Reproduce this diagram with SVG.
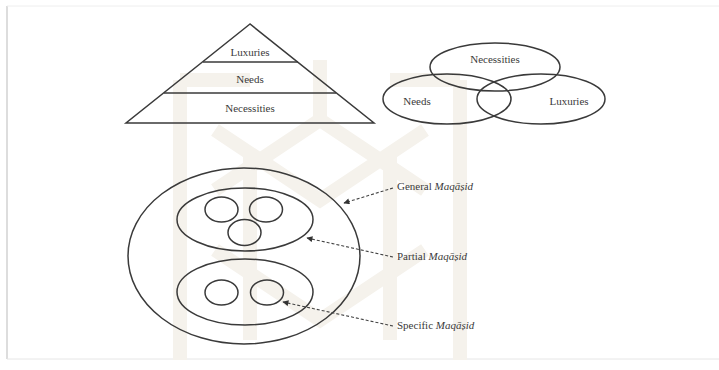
<svg xmlns="http://www.w3.org/2000/svg" width="719" height="370" viewBox="0 0 719 370">
<style>
.ln{fill:none;stroke:#3a3a3a;stroke-width:1.5}
.t{font-family:"Liberation Serif",serif;font-size:11px;fill:#3a3a3a;text-anchor:middle}
.lb{font-family:"Liberation Serif",serif;font-size:11px;fill:#3a3a3a}
.dash{fill:none;stroke:#444;stroke-width:1.1;stroke-dasharray:3,2}
.wm{fill:none;stroke:#f5f2ec;stroke-width:14}
</style>
<defs>
<marker id="ah" viewBox="0 0 10 10" refX="9" refY="5" markerWidth="7" markerHeight="6" orient="auto" markerUnits="userSpaceOnUse">
<path d="M0,0 L10,5 L0,10 Z" fill="#333"/>
</marker>
</defs>
<rect width="719" height="370" fill="#fff"/>
<g id="frame">
<line x1="7" y1="6" x2="7" y2="359" stroke="#ddd" stroke-width="2"/>
<line x1="7" y1="6" x2="719" y2="6" stroke="#eee" stroke-width="1"/>
<line x1="7" y1="359" x2="719" y2="359" stroke="#e6e6e6" stroke-width="1"/>
</g>
<g id="watermark">
<path class="wm" d="M180,80 L180,360 M180,80 L250,80 M460,80 L460,360 M390,80 L460,80"/>
<path class="wm" d="M215,130 L320,200 L425,130 M215,250 L320,320 L425,250 M215,190 L320,120 L425,190"/>
<path class="wm" d="M250,150 L250,340 M390,150 L390,340 M320,60 L320,120"/>
</g>
<g id="pyramid">
<path class="ln" d="M250,24 L126,123 L374,123 Z"/>
<line class="ln" x1="203" y1="62" x2="298" y2="62"/>
<line class="ln" x1="164" y1="93" x2="336" y2="93"/>
<text class="t" x="250" y="56">Luxuries</text>
<text class="t" x="250" y="83">Needs</text>
<text class="t" x="250" y="112">Necessities</text>
</g>
<g id="venn-necessities">
<ellipse class="ln" cx="495" cy="67" rx="65" ry="24"/>
<text class="t" x="495" y="63">Necessities</text>
</g>
<g id="venn-needs">
<ellipse class="ln" cx="447" cy="99" rx="64" ry="25"/>
<text class="t" x="417" y="105">Needs</text>
</g>
<g id="venn-luxuries">
<ellipse class="ln" cx="541" cy="99" rx="64" ry="25"/>
<text class="t" x="569" y="105">Luxuries</text>
</g>
<g id="general">
<ellipse class="ln" cx="244" cy="256" rx="116" ry="88"/>
</g>
<g id="partial-upper">
<ellipse class="ln" cx="245" cy="219.5" rx="68" ry="31.5"/>
</g>
<g id="partial-lower">
<ellipse class="ln" cx="245" cy="292" rx="68" ry="33"/>
</g>
<g id="specific-1"><ellipse class="ln" cx="221.5" cy="209.5" rx="16.5" ry="12.5"/></g>
<g id="specific-2"><ellipse class="ln" cx="266" cy="209.5" rx="16.5" ry="12.5"/></g>
<g id="specific-3"><ellipse class="ln" cx="244.5" cy="232.5" rx="16.5" ry="13"/></g>
<g id="specific-4"><ellipse class="ln" cx="221.5" cy="292.5" rx="16.5" ry="12.5"/></g>
<g id="specific-5"><ellipse class="ln" cx="267" cy="292.5" rx="16.5" ry="12.5"/></g>
<g id="label-general"><text class="lb" x="397" y="190">General <tspan font-style="italic">Maqāṣid</tspan></text></g>
<g id="label-partial"><text class="lb" x="397" y="260">Partial <tspan font-style="italic">Maqāṣid</tspan></text></g>
<g id="label-specific"><text class="lb" x="397" y="329">Specific <tspan font-style="italic">Maqāṣid</tspan></text></g>
<g id="connectors">
<line class="dash" x1="393" y1="188" x2="344" y2="203" marker-end="url(#ah)"/>
<line class="dash" x1="393" y1="257" x2="307" y2="238" marker-end="url(#ah)"/>
<line class="dash" x1="393" y1="326" x2="283" y2="302" marker-end="url(#ah)"/>
</g>
</svg>
